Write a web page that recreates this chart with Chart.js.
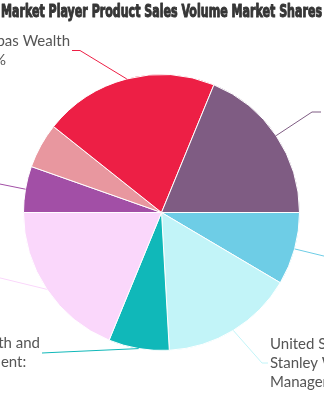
<!DOCTYPE html>
<html>
<head>
<meta charset="utf-8">
<script src="https://cdn.jsdelivr.net/npm/chart.js@4.4.0/dist/chart.umd.min.js"></script>
<style>
html, body { margin: 0; padding: 0; background: #fff; }
#wrap { width: 324px; height: 400px; overflow: hidden; }
</style>
</head>
<body>
<div id="wrap"><canvas id="chart" width="324" height="400"></canvas></div>
<script>
// Market player sales volume shares, clockwise from 3 o'clock
const titleText = 'Market Player Product Sales Volume Market Shares';
const players = [
    'Credit Suisse',
    'United States Morgan Stanley Wealth Management',
    'Wells Fargo Co. Wealth and Investment Management',
    'Bank of America Merrill Lynch',
    'JPMorgan Chase',
    'Citi Private Bank',
    'Fortis BNP Paribas Wealth Mgmt SA',
    'UBS Wealth Management'
];
const shares = [8.5, 15.6, 7.1, 18.8, 5.4, 5.3, 20.5, 18.8];
const sliceColors = ['#6ecde6', '#c2f4f8', '#10b8b9', '#fad7fb', '#a24fa6', '#e8979f', '#ed1f45', '#7f5c83'];

// wrapped label text for each slice (null = no label)
const labelLines = [
    ['Credit Suisse: 8.5%'],
    ['United States Morgan', 'Stanley Wealth', 'Management: 15.6%'],
    ['Wells Fargo Co. Wealth and', 'Investment Management:'],
    ['Bank of America', 'Merrill Lynch: 18.8%'],
    ['JPMorgan Chase: 5.4%'],
    null,
    ['Fortis BNP Paribas Wealth', 'Mgmt SA: 20.5%'],
    ['UBS Wealth', 'Management: 18.8%']
];

// leader line bend point and end point, and which side the text goes
const leaders = [
    { knee: [336, 259], end: [346, 259], side: 'right' },
    { knee: [262, 363], end: [268, 363], side: 'right' },
    { knee: [52, 352.5], end: [42, 353], side: 'left' },
    { knee: [-12, 275], end: [-22, 275], side: 'left' },
    { knee: [-20, 180], end: [-30, 180], side: 'left' },
    null,
    { knee: [80, 50.5], end: [72, 50.5], side: 'left' },
    { knee: [312, 112], end: [321, 112], side: 'right' }
];

const titlePlugin = {
    id: 'cutTitle',
    afterDraw(chart) {
        const c = chart.ctx;
        c.save();
        c.font = 'bold 17px "Liberation Sans Narrow", "DejaVu Sans Condensed", "Liberation Sans", sans-serif';
        c.fillStyle = '#363636';
        c.strokeStyle = '#363636';
        c.lineWidth = 1;
        c.lineJoin = 'round';
        c.textAlign = 'left';
        c.textBaseline = 'alphabetic';
        const w = c.measureText(titleText).width;
        c.translate(1, 17);
        c.scale(321 / w, 1);
        c.fillText(titleText, 0, 0);
        c.strokeText(titleText, 0, 0);
        c.restore();
    }
};

const leaderPlugin = {
    id: 'leaders',
    afterDatasetsDraw(chart) {
        const c = chart.ctx;
        const arcs = chart.getDatasetMeta(0).data;
        const lh = 19;
        c.save();
        c.font = '15px Lato, "Open Sans", sans-serif';
        c.textBaseline = 'middle';
        arcs.forEach((arc, i) => {
            const ld = leaders[i];
            if (!ld) return;
            const p = arc.getProps(['x', 'y', 'startAngle', 'endAngle', 'outerRadius'], true);
            const mid = (p.startAngle + p.endAngle) / 2;
            const sx = p.x + Math.cos(mid) * p.outerRadius;
            const sy = p.y + Math.sin(mid) * p.outerRadius;

            c.strokeStyle = sliceColors[i];
            c.lineWidth = 1;
            c.beginPath();
            c.moveTo(sx, sy);
            c.lineTo(ld.knee[0], ld.knee[1]);
            c.lineTo(ld.end[0], ld.end[1]);
            c.stroke();

            const lines = labelLines[i];
            if (!lines) return;
            const maxW = Math.max(...lines.map(t => c.measureText(t).width));
            const tx = ld.side === 'left' ? ld.end[0] - 2 - maxW : ld.end[0] + 2;
            const ty = ld.end[1] - (lines.length - 1) * lh / 2;
            c.fillStyle = '#555555';
            c.textAlign = 'left';
            lines.forEach((t, k) => c.fillText(t, tx, ty + k * lh));
        });
        c.restore();
    }
};

new Chart(document.getElementById('chart').getContext('2d'), {
    type: 'pie',
    data: {
        labels: players,
        datasets: [{
            data: shares,
            backgroundColor: sliceColors,
            borderColor: '#ffffff',
            borderWidth: 1
        }]
    },
    options: {
        responsive: false,
        animation: false,
        rotation: 90,
        layout: {
            padding: { left: 23, right: 24, top: 74, bottom: 49 }
        },
        plugins: {
            legend: { display: false },
            tooltip: { enabled: false },
            title: { display: false }
        }
    },
    plugins: [titlePlugin, leaderPlugin]
});
</script>
</body>
</html>
